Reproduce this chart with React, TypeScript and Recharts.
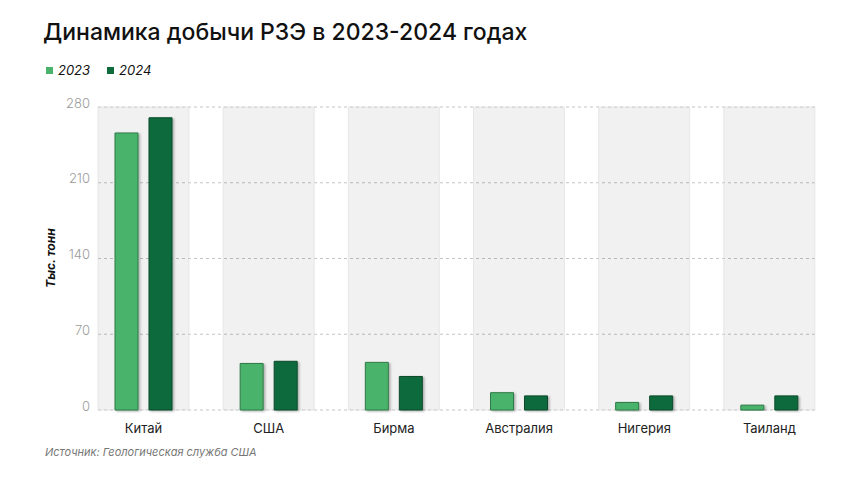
import React from 'react';
import { BarChart, Bar, XAxis, YAxis, CartesianGrid } from 'recharts';

const countries = ['Китай', 'США', 'Бирма', 'Австралия', 'Нигерия', 'Таиланд'];
const values2023 = [256, 43, 44, 16, 7, 4.5];
const values2024 = [270, 45, 31, 13, 13, 13];
const yTicks = [0, 70, 140, 210, 280];
const yMax = 280;

const LIGHT = '#49b36c';
const DARK = '#0f6b3c';
const FONT = 'Inter, "Noto Sans", sans-serif';

const data = countries.map((name, i) => ({
  name,
  y2023: values2023[i],
  y2024: values2024[i],
  bg: yMax,
}));

export default function App() {
  return (
    <div style={{ position: 'absolute', left: 0, top: 0, width: 860, height: 484, background: '#fff', fontFamily: FONT }}>
      <div style={{ position: 'absolute', left: 43, top: 18, fontSize: 23, fontWeight: 500, color: '#111', whiteSpace: 'nowrap' }}>
        Динамика добычи РЗЭ в 2023-2024 годах
      </div>
      <div style={{ position: 'absolute', left: 46, top: 62, display: 'flex', alignItems: 'center', fontSize: 13, fontStyle: 'italic', color: '#111' }}>
        <span style={{ width: 7, height: 7, background: LIGHT, display: 'inline-block', marginRight: 5 }} />
        <span style={{ marginRight: 17 }}>2023</span>
        <span style={{ width: 7, height: 7, background: DARK, display: 'inline-block', marginRight: 5 }} />
        <span>2024</span>
      </div>
      <div style={{ position: 'absolute', left: 50, top: 258, transform: 'translate(-50%, -50%) rotate(-90deg)', fontSize: 12, fontWeight: 700, fontStyle: 'italic', color: '#111', whiteSpace: 'nowrap' }}>
        Тыс. тонн
      </div>
      <div style={{ position: 'absolute', left: 45, top: 445, fontSize: 11, fontStyle: 'italic', color: '#777', whiteSpace: 'nowrap' }}>
        Источник: Геологическая служба США
      </div>
      <div style={{ position: 'absolute', left: 0, top: 0 }}>
        <BarChart width={860} height={484} data={data} margin={{ top: 107, right: 45, bottom: 44, left: 48 }} barGap={11}>
          <defs>
            <filter id="barShadow" x="-20%" y="-10%" width="150%" height="130%">
              <feDropShadow dx="1.5" dy="1" stdDeviation="1.2" floodColor="#000" floodOpacity="0.3" />
            </filter>
          </defs>
          <XAxis xAxisId="bg" dataKey="name" hide padding={{ left: -17, right: -17 }} />
          <XAxis
            dataKey="name"
            padding={{ left: -17, right: -17 }}
            axisLine={false}
            tickLine={false}
            tick={{ fill: '#222', fontSize: 13, fontFamily: FONT }}
            tickMargin={8}
          />
          <YAxis
            domain={[0, yMax]}
            ticks={yTicks}
            width={50}
            axisLine={false}
            tickLine={false}
            tick={{ fill: '#9a9a9a', fontSize: 13, fontFamily: FONT, fontWeight: 300, dy: -4 }}
          />
          <Bar xAxisId="bg" dataKey="bg" barSize={91} fill="#000" fillOpacity={0.055} stroke="#e2e2e2" strokeWidth={0.8} isAnimationActive={false} />
          <CartesianGrid vertical={false} stroke="#c4c4c4" strokeDasharray="3 3" />
          <Bar dataKey="y2023" barSize={23} fill={LIGHT} stroke="#2f7a48" strokeWidth={1} filter="url(#barShadow)" isAnimationActive={false} />
          <Bar dataKey="y2024" barSize={23} fill={DARK} stroke="#0a4a29" strokeWidth={1} filter="url(#barShadow)" isAnimationActive={false} />
        </BarChart>
      </div>
    </div>
  );
}
